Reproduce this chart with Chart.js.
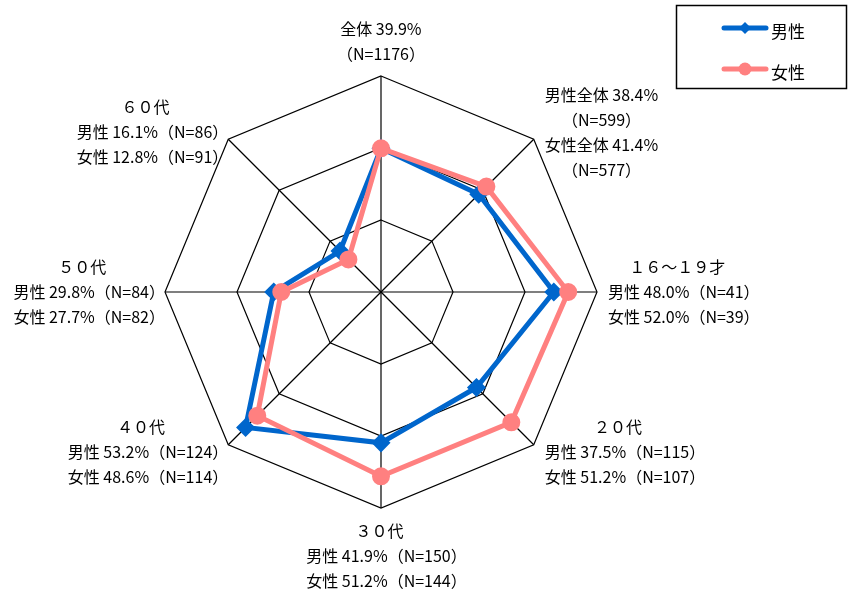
<!DOCTYPE html>
<html lang="ja">
<head>
<meta charset="utf-8">
<script src="https://cdn.jsdelivr.net/npm/chart.js@4.4.1/dist/chart.umd.min.js"></script>
<style>
  html, body { margin: 0; background: #fff; }
</style>
</head>
<body>
<canvas id="radar" width="848" height="590"></canvas>
<script>
const categories = [
  ['全体 39.9%', '（N=1176）'],
  ['男性全体 38.4%', '（N=599）', '女性全体 41.4%', '（N=577）'],
  ['１６～１９才', '男性 48.0%（N=41）', '女性 52.0%（N=39）'],
  ['２０代', '男性 37.5%（N=115）', '女性 51.2%（N=107）'],
  ['３０代', '男性 41.9%（N=150）', '女性 51.2%（N=144）'],
  ['４０代', '男性 53.2%（N=124）', '女性 48.6%（N=114）'],
  ['５０代', '男性 29.8%（N=84）', '女性 27.7%（N=82）'],
  ['６０代', '男性 16.1%（N=86）', '女性 12.8%（N=91）']
];
const seriesNames = ['男性', '女性'];
const maleValues = [39.9, 38.4, 48.0, 37.5, 41.9, 53.2, 29.8, 16.1];
const femaleValues = [39.9, 41.4, 52.0, 51.2, 51.2, 48.6, 27.7, 12.8];
const axisMax = 60;
const axisStep = 20;

const jpFont = '"Noto Sans CJK JP", "Noto Sans", sans-serif';

// multi-line labels outside each spoke, aligned on their visible ink
const blockLabels = {
  id: 'blockLabels',
  afterDraw(chart) {
    const scale = chart.scales.r;
    const ctx = chart.ctx;
    const lineH = 25;
    ctx.save();
    ctx.font = '16px ' + jpFont;
    ctx.fillStyle = '#000';
    ctx.textAlign = 'left';
    ctx.textBaseline = 'middle';
    categories.forEach((lines, i) => {
      const v = scale.getPointPosition(i, scale.drawingArea);
      const p = scale.getPointPosition(i, scale.drawingArea + 10);
      const ms = lines.map(l => ctx.measureText(l));
      const vws = ms.map(m => m.actualBoundingBoxRight + m.actualBoundingBoxLeft);
      const W = Math.max(...vws);
      const h = lines.length * lineH;
      let left, cy = p.y;
      if (v.x > scale.xCenter + 1) left = v.x + 11;
      else if (v.x < scale.xCenter - 1) left = v.x - 11 - W;
      else {
        left = v.x - W / 2;
        cy = p.y < scale.yCenter ? p.y - h / 2 : p.y + h / 2;
      }
      lines.forEach((t, k) => {
        const x = left + (W - vws[k]) / 2 + ms[k].actualBoundingBoxLeft;
        ctx.fillText(t, x, cy - h / 2 + lineH * (k + 0.5));
      });
    });
    ctx.restore();
  }
};

// boxed legend in the top right corner
const boxLegend = {
  id: 'boxLegend',
  afterDraw(chart) {
    const ctx = chart.ctx;
    ctx.save();
    ctx.strokeStyle = '#000';
    ctx.lineWidth = 1.5;
    ctx.strokeRect(676.5, 5.5, 170, 83);
    chart.data.datasets.forEach((ds, i) => {
      const y = 28 + i * 41;
      ctx.strokeStyle = ds.borderColor;
      ctx.fillStyle = ds.borderColor;
      ctx.lineWidth = 5;
      ctx.lineCap = 'round';
      ctx.beginPath();
      ctx.moveTo(724, y);
      ctx.lineTo(766, y);
      ctx.stroke();
      ctx.beginPath();
      if (ds.pointStyle === 'rectRot') {
        ctx.moveTo(745, y - 6); ctx.lineTo(751, y); ctx.lineTo(745, y + 6); ctx.lineTo(739, y);
        ctx.closePath();
      } else {
        ctx.arc(745, y, 6.5, 0, Math.PI * 2);
      }
      ctx.fill();
      ctx.fillStyle = '#000';
      ctx.font = '17px ' + jpFont;
      ctx.textAlign = 'left';
      ctx.textBaseline = 'middle';
      ctx.fillText(ds.label, 771, y + 4);
    });
    ctx.restore();
  }
};

new Chart(document.getElementById('radar'), {
  type: 'radar',
  data: {
    labels: categories,
    datasets: [
      {
        label: seriesNames[0],
        data: maleValues,
        borderColor: '#0066CC',
        backgroundColor: '#0066CC',
        pointBackgroundColor: '#0066CC',
        pointBorderColor: '#0066CC',
        pointStyle: 'rectRot',
        pointRadius: 6,
        borderWidth: 5,
        fill: false,
        order: 1
      },
      {
        label: seriesNames[1],
        data: femaleValues,
        borderColor: '#FF8080',
        backgroundColor: '#FF8080',
        pointBackgroundColor: '#FF8080',
        pointBorderColor: '#FF8080',
        pointStyle: 'circle',
        pointRadius: 6.5,
        borderWidth: 5,
        fill: false,
        order: 0
      }
    ]
  },
  options: {
    responsive: false,
    animation: false,
    layout: { padding: { left: 165, right: 251, top: 76, bottom: 82 } },
    scales: {
      r: {
        min: 0,
        max: axisMax,
        ticks: { display: false, stepSize: axisStep },
        grid: { color: '#000', lineWidth: 1.2 },
        angleLines: { color: '#000', lineWidth: 1.2 },
        pointLabels: { display: false }
      }
    },
    plugins: {
      legend: { display: false },
      tooltip: { enabled: false }
    }
  },
  plugins: [blockLabels, boxLegend]
});
</script>
</body>
</html>
